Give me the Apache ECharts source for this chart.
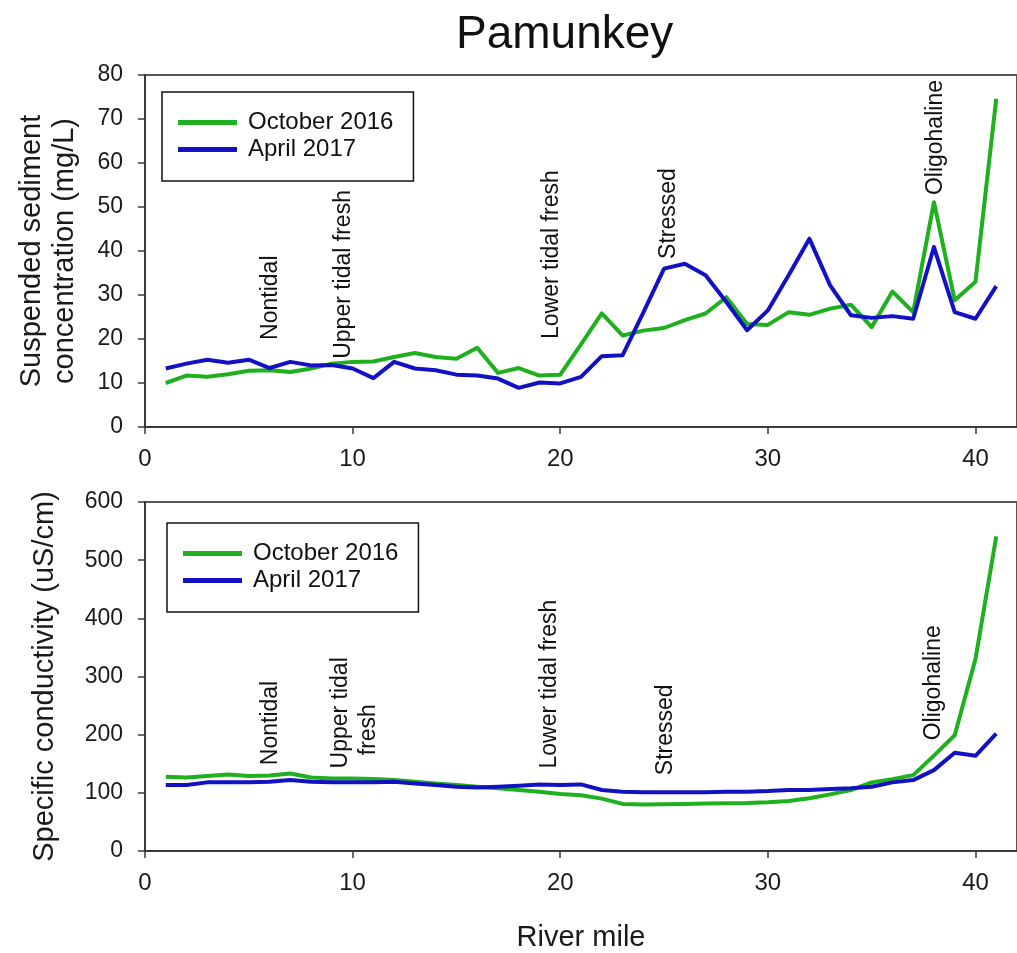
<!DOCTYPE html>
<html>
<head>
<meta charset="utf-8">
<title>Pamunkey</title>
<script src="https://cdn.jsdelivr.net/npm/echarts@6/dist/echarts.min.js"></script>
<style>
  html, body { margin: 0; padding: 0; background: #fff; }
  #main { width: 1017px; height: 953px; }
</style>
</head>
<body>
<div id="main"></div>
<script>
// river mile of every sample
const miles = [1, 2, 3, 4, 5, 6, 7, 8, 9, 10, 11, 12, 13, 14, 15, 16, 17, 18, 19, 20,
  21, 22, 23, 24, 25, 26, 27, 28, 29, 30, 31, 32, 33, 34, 35, 36, 37, 38, 39, 40, 41];

// suspended sediment (mg/L)
const sscOct2016 = [10, 11.7, 11.4, 12, 12.8, 12.9, 12.5, 13.3, 14.4, 14.8, 14.9, 15.9, 16.8, 15.9, 15.5, 18,
  12.3, 13.4, 11.7, 11.9, 18.8, 25.8, 20.8, 21.9, 22.5, 24.3, 25.8, 29.5, 23.4, 23.2, 26.1, 25.5, 26.9, 27.8,
  22.7, 30.8, 26.1, 51.1, 28.8, 33, 74.6];
const sscApr2017 = [13.3, 14.4, 15.3, 14.6, 15.3, 13.4, 14.8, 14, 14.1, 13.3, 11.1, 14.8, 13.3, 12.9, 11.9, 11.7,
  11, 8.9, 10.1, 9.9, 11.4, 16.1, 16.3, 26, 36, 37.1, 34.5, 28.4, 22, 26.5, 34.5, 42.8, 32.2, 25.4, 24.8, 25.2,
  24.6, 40.9, 26.1, 24.6, 32];

// specific conductivity (uS/cm)
const condOct2016 = [127.7, 126.5, 129, 131.6, 128.8, 129.9, 133.3, 126.5, 124.8, 124.8, 123.6, 121.9, 119, 116.2,
  113.4, 110.6, 107.7, 104.8, 102, 98, 96, 90, 81, 80, 80.5, 81, 81.5, 82, 82.5, 83.8, 86, 90.6, 97.4, 104.8,
  118, 123.6, 130.5, 164, 199, 330, 541];
const condApr2017 = [113.4, 113.4, 118, 118, 118, 119, 121.9, 119, 118, 118, 118, 119, 116.2, 113.4, 110.6, 109,
  110.6, 112.3, 114.5, 113.4, 114.5, 104.8, 102, 101, 101, 101, 101, 102, 102, 103, 104.8, 104.8, 106.6, 107.7,
  110.6, 118, 121.9, 139, 169, 163.6, 201.7];

// zone labels (river mile, value at foot of the text)
const sscZoneNames = ['Nontidal', 'Upper tidal fresh', 'Lower tidal fresh', 'Stressed', 'Oligohaline'];
const sscZoneX = [6.06, 9.57, 19.57, 25.2, 38.08];
const sscZoneY = [19.8, 15.5, 20, 38.2, 52.7];
const condZoneNames = ['Nontidal', 'Upper tidal', 'fresh', 'Lower tidal fresh', 'Stressed', 'Oligohaline'];
const condZoneX = [6.06, 9.41, 10.77, 19.5, 25.1, 38.0];
const condZoneY = [147.5, 141.9, 164.6, 141.9, 130.4, 190.3];

const FONT = '"Liberation Sans", Arial, Helvetica, sans-serif';
const GREEN = '#1eb01e';
const BLUE = '#1212c4';

const pairs = (xs, ys) => xs.map((x, i) => [x, ys[i]]);
const zoneData = (names, xs, ys) => names.map((n, i) => ({ value: [xs[i], ys[i]], name: n }));

var chartDom = document.getElementById('main');
var myChart = echarts.init(chartDom, null, { renderer: 'canvas' });

const xAxisFor = (gridIndex, name) => ({
  type: 'value',
  gridIndex: gridIndex,
  min: 0,
  max: 42,
  interval: 10,
  name: name || '',
  nameLocation: 'middle',
  nameGap: 72,
  nameTextStyle: { fontFamily: FONT, fontSize: 29, color: '#1a1a1a' },
  axisLine: { lineStyle: { color: '#3a3a3a', width: 2 } },
  axisTick: { show: true, inside: false, length: 7, lineStyle: { color: '#3a3a3a', width: 1.5 } },
  axisLabel: { fontFamily: FONT, fontSize: 24, color: '#1a1a1a', margin: 20, showMaxLabel: false },
  splitLine: { show: false }
});

const yAxisFor = (gridIndex, max, interval, name, gap) => ({
  type: 'value',
  gridIndex: gridIndex,
  min: 0,
  max: max,
  interval: interval,
  name: name,
  nameLocation: 'middle',
  nameGap: gap,
  nameTextStyle: { fontFamily: FONT, fontSize: 29, color: '#1a1a1a', lineHeight: 33 },
  axisLine: { show: true, lineStyle: { color: '#3a3a3a', width: 2 } },
  axisTick: { show: true, inside: false, length: 7, lineStyle: { color: '#3a3a3a', width: 1.5 } },
  axisLabel: { fontFamily: FONT, fontSize: 23, color: '#1a1a1a', margin: 22 },
  splitLine: { show: false }
});

const legendFor = (left, top) => ({
  orient: 'vertical',
  left: left,
  top: top,
  padding: [17, 20, 18, 16],
  itemGap: 0,
  itemWidth: 59,
  itemHeight: 5,
  icon: 'rect',
  backgroundColor: '#fff',
  borderColor: '#111',
  borderWidth: 1.5,
  data: ['October 2016', 'April 2017'],
  textStyle: { fontFamily: FONT, fontSize: 24, color: '#111', lineHeight: 27, padding: [0, 0, 0, 6] },
  selectedMode: false
});

const lineSeries = (name, color, idx, data) => ({
  name: name,
  type: 'line',
  xAxisIndex: idx,
  yAxisIndex: idx,
  data: data,
  showSymbol: false,
  symbol: 'none',
  color: color,
  lineStyle: { color: color, width: 4, join: 'round' },
  z: 3
});

const zoneSeries = (idx, data) => ({
  type: 'scatter',
  xAxisIndex: idx,
  yAxisIndex: idx,
  symbolSize: 0,
  silent: true,
  data: data,
  z: 1,
  itemStyle: { opacity: 1 },
  label: {
    show: true,
    position: 'inside',
    rotate: 90,
    align: 'left',
    verticalAlign: 'middle',
    formatter: p => p.name,
    fontFamily: FONT,
    fontSize: 23,
    color: '#111',
    opacity: 1,
    textBorderWidth: 0,
    textBorderColor: 'transparent'
  }
});

var option = {
  backgroundColor: '#fff',
  animation: false,
  title: {
    text: 'Pamunkey',
    left: 456,
    top: 12,
    padding: 0,
    textStyle: { fontFamily: FONT, fontSize: 46, fontWeight: 'normal', color: '#111' }
  },
  legend: [legendFor(162, 92), legendFor(167, 523)],
  grid: [
    { left: 145, right: -4, top: 75, height: 352, show: true, borderColor: '#555', borderWidth: 2 },
    { left: 145, right: -4, top: 502, height: 351, show: true, borderColor: '#555', borderWidth: 2 }
  ],
  xAxis: [xAxisFor(0), xAxisFor(1, 'River mile')],
  yAxis: [
    yAxisFor(0, 80, 10, 'Suspended sediment\nconcentration (mg/L)', 64),
    yAxisFor(1, 600, 100, 'Specific conductivity (uS/cm)', 84)
  ],
  series: [
    lineSeries('October 2016', GREEN, 0, pairs(miles, sscOct2016)),
    lineSeries('April 2017', BLUE, 0, pairs(miles, sscApr2017)),
    lineSeries('October 2016', GREEN, 1, pairs(miles, condOct2016)),
    lineSeries('April 2017', BLUE, 1, pairs(miles, condApr2017)),
    zoneSeries(0, zoneData(sscZoneNames, sscZoneX, sscZoneY)),
    zoneSeries(1, zoneData(condZoneNames, condZoneX, condZoneY))
  ]
};

option && myChart.setOption(option, true);
window.onresize = () => {
  myChart.resize();
};
</script>
</body>
</html>
